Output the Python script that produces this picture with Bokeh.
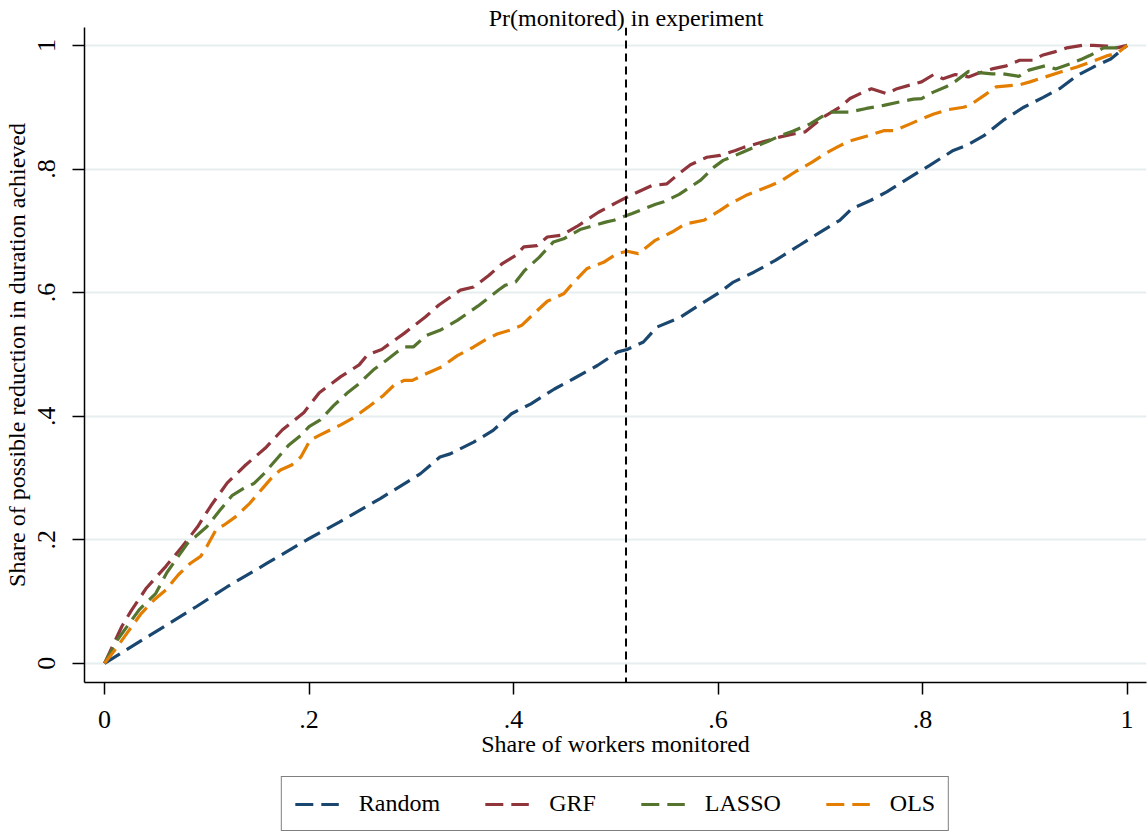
from bokeh.plotting import figure
from bokeh.models import Span, Legend, LegendItem, FixedTicker, Range1d, LinearAxis
from bokeh.layouts import column
from bokeh.embed import file_html
from bokeh.resources import INLINE

# ---------------- data ----------------
random_x = [0, .045, .090, .120, .159, .198, .230, .270, .309, .328, .338, .361, .380, .398, .417,
            .440, .459, .482, .502, .511, .527, .540, .563, .579, .602, .615, .635, .656, .680,
            .700, .719, .731, .749, .765, .788, .807, .830, .843, .860, .879, .899, .918, .934,
            .951, .967, .984, 1.0]
random_y = [0, .046, .092, .124, .162, .200, .229, .267, .307, .334, .339, .358, .377, .404, .420,
            .444, .461, .482, .504, .508, .520, .544, .560, .577, .601, .617, .633, .652, .677,
            .698, .717, .736, .749, .763, .787, .806, .830, .838, .854, .879, .900, .916, .930,
            .951, .965, .978, 1.0]

grf_x = [0, .017, .026, .041, .060, .076, .091, .104, .120, .138, .157, .174, .195, .210, .231,
         .249, .257, .271, .293, .314, .327, .348, .361, .376, .389, .402, .410, .423, .433,
         .447, .462, .483, .501, .514, .535, .550, .560, .573, .589, .602, .617, .625, .644,
         .661, .675, .685, .703, .719, .729, .739, .750, .765, .775, .788, .799, .811, .820,
         .832, .845, .853, .868, .882, .895, .908, .917, .930, .941, .956, .967, .980, .990, 1.0]
grf_y = [0, .060, .085, .122, .157, .189, .221, .255, .292, .321, .348, .378, .406, .438, .464,
         .483, .499, .508, .534, .561, .580, .604, .609, .628, .647, .660, .674, .676, .690,
         .693, .707, .730, .746, .757, .773, .776, .790, .807, .819, .822, .830, .835, .844,
         .852, .857, .860, .884, .900, .914, .922, .930, .922, .930, .936, .941, .953, .946,
         .953, .949, .954, .962, .967, .976, .976, .984, .990, .996, 1.0, 1.0, .999, .996, 1.0]

lasso_x = [0, .013, .034, .050, .061, .081, .091, .100, .113, .125, .136, .146, .156, .169, .180,
           .192, .200, .211, .224, .237, .247, .263, .276, .286, .294, .302, .314, .328, .345,
           .365, .386, .392, .402, .411, .425, .439, .449, .465, .490, .498, .516, .539, .547,
           .562, .583, .596, .605, .624, .649, .661, .673, .690, .706, .711, .728, .745, .762,
           .776, .791, .799, .810, .823, .833, .845, .855, .868, .879, .894, .904, .920, .930,
           .944, .956, .964, .977, .988, 1.0]
lasso_y = [0, .039, .087, .113, .147, .194, .208, .221, .248, .272, .283, .291, .307, .332, .353,
           .369, .383, .394, .417, .437, .450, .475, .491, .504, .512, .512, .530, .539, .555,
           .578, .605, .612, .617, .636, .657, .682, .687, .702, .714, .717, .728, .743, .747,
           .759, .782, .803, .814, .827, .845, .854, .861, .873, .889, .892, .892, .898, .903,
           .908, .913, .914, .924, .933, .943, .958, .956, .954, .954, .950, .960, .967, .962,
           .970, .978, .984, .996, .996, 1.0]

ols_x = [0, .009, .022, .036, .048, .060, .072, .084, .094, .100, .109, .117, .128, .142, .156,
         .166, .172, .183, .192, .201, .210, .221, .231, .242, .258, .273, .283, .293, .301,
         .315, .330, .345, .361, .374, .384, .398, .408, .420, .433, .449, .459, .472, .488,
         .501, .511, .522, .538, .555, .568, .586, .602, .612, .627, .636, .651, .661, .676,
         .692, .705, .716, .728, .745, .762, .772, .788, .799, .811, .825, .840, .846, .861,
         .872, .894, .905, .920, .935, .951, .964, .980, .990, 1.0]
ols_y = [0, .019, .049, .081, .102, .119, .143, .162, .173, .189, .216, .224, .237, .259, .286,
         .305, .313, .321, .334, .361, .369, .378, .386, .396, .415, .434, .450, .458, .458,
         .469, .480, .498, .512, .525, .533, .540, .547, .566, .586, .598, .617, .639, .649,
         .663, .667, .663, .684, .698, .711, .717, .733, .744, .757, .763, .773, .780, .796,
         .811, .825, .835, .845, .853, .862, .862, .873, .881, .889, .896, .900, .903, .920,
         .933, .936, .941, .949, .957, .965, .973, .983, .987, 1.0]

series_names = ["Random", "GRF", "LASSO", "OLS"]
series_colors = ["#1a476f", "#90353b", "#55752f", "#e37e00"]

pr_monitored = 0.51
pr_label = "Pr(monitored) in experiment"
ticks = [0, 0.2, 0.4, 0.6, 0.8, 1]
tick_labels = ["0", ".2", ".4", ".6", ".8", "1"]

# ---------------- figure ----------------
FONT = "Liberation Serif"
DASH = "18 8"

p = figure(width=1148, height=770, output_backend="svg", toolbar_location=None,
           x_range=Range1d(-0.0196, 1.019), y_range=Range1d(-0.031, 1.029),
           min_border_left=84, min_border_right=2, min_border_top=27, min_border_bottom=88)
p.outline_line_color = None
p.background_fill_color = "white"
p.border_fill_color = "white"

p.xgrid.visible = False
p.ygrid.grid_line_color = "#e6eef0"
p.ygrid.grid_line_width = 2

for ax, lab in ((p.xaxis[0], "Share of workers monitored"),
                (p.yaxis[0], "Share of possible reduction in duration achieved")):
    ax.ticker = FixedTicker(ticks=ticks)
    ax.major_label_overrides = {t: l for t, l in zip(ticks, tick_labels)}
    ax.minor_tick_line_color = None
    ax.major_tick_out = 12
    ax.major_tick_in = 0
    ax.major_tick_line_width = 1.5
    ax.major_tick_line_color = "black"
    ax.axis_line_color = "black"
    ax.axis_line_width = 1.5
    ax.major_label_text_font = FONT
    ax.major_label_text_font_size = "26px"
    ax.major_label_text_color = "black"
    ax.axis_label = lab
    ax.axis_label_text_font = FONT
    ax.axis_label_text_font_size = "24px"
    ax.axis_label_text_font_style = "normal"
    ax.axis_label_text_color = "black"

p.xaxis.major_label_standoff = 16
p.xaxis.axis_label_standoff = 0
p.yaxis.major_label_orientation = "parallel"
p.yaxis.major_label_standoff = 17
p.yaxis.axis_label_standoff = 6

# top axis used only to carry the reference-line label at x = pr_monitored
top_ax = LinearAxis(ticker=FixedTicker(ticks=[pr_monitored]),
                    major_label_overrides={pr_monitored: pr_label},
                    axis_line_color=None, major_tick_line_color=None,
                    minor_tick_line_color=None, major_tick_out=0, major_tick_in=0,
                    major_label_standoff=-3, major_label_text_font=FONT,
                    major_label_text_font_size="24px", major_label_text_color="black")
p.add_layout(top_ax, "above")

xs = [random_x, grf_x, lasso_x, ols_x]
ys = [random_y, grf_y, lasso_y, ols_y]
for name, col, x, y in zip(series_names, series_colors, xs, ys):
    p.line(x, y, line_color=col, line_width=3.2, line_dash=DASH, line_cap="butt")

vline = Span(location=pr_monitored, dimension="height", line_color="black",
             line_width=2, line_dash="8 5")
p.add_layout(vline)

# ---------------- legend strip ----------------
# The series are re-plotted here outside this strip's visible y-range, only to
# provide the legend swatches.
lg = figure(width=1148, height=62, output_backend="svg", toolbar_location=None,
            x_axis_type=None, y_axis_type=None, x_range=Range1d(0, 1), y_range=Range1d(10, 11),
            min_border=0, min_border_left=84, min_border_right=2)
lg.outline_line_color = None
lg.xgrid.visible = False
lg.ygrid.visible = False
items = []
for name, col, x, y in zip(series_names, series_colors, xs, ys):
    r = lg.line(x, y, line_color=col, line_width=3.2, line_dash=DASH, line_cap="butt")
    items.append(LegendItem(label=name, renderers=[r]))

legend = Legend(items=items, orientation="horizontal", location="top_center",
                label_text_font=FONT, label_text_font_size="24px", label_text_color="black",
                glyph_width=44, glyph_height=20, label_standoff=20, spacing=45,
                padding=13, margin=6, border_line_color="black", border_line_width=1.5,
                background_fill_color="white", background_fill_alpha=1.0)
lg.add_layout(legend)

layout = column(p, lg, spacing=0)
open("out.html", "w").write(file_html(layout, INLINE))
